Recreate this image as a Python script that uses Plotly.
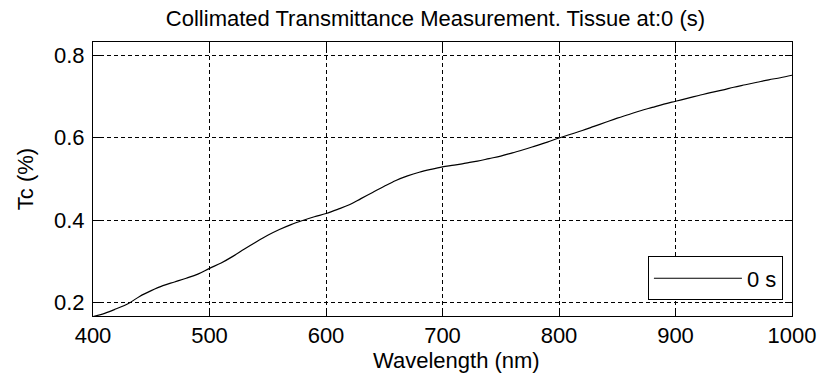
import plotly.graph_objects as go

# Collimated transmittance spectrum of the tissue sample at t = 0 s
wavelength_nm = [400, 410, 420, 430, 440, 450, 460, 470, 480, 490,
                 500, 510, 520, 530, 540, 550, 560, 570, 580, 590,
                 600, 610, 620, 630, 640, 650, 660, 670, 680, 690,
                 700, 710, 720, 730, 740, 750, 760, 770, 780, 790,
                 800, 810, 820, 830, 840, 850, 860, 870, 880, 890,
                 900, 910, 920, 930, 940, 950, 960, 970, 980, 990, 1000]
tc_values = [0.166, 0.174, 0.185, 0.197, 0.215, 0.229, 0.241, 0.250, 0.259, 0.269,
             0.283, 0.296, 0.312, 0.330, 0.347, 0.363, 0.377, 0.389, 0.399, 0.408,
             0.416, 0.426, 0.437, 0.452, 0.467, 0.482, 0.496, 0.507, 0.516, 0.523,
             0.529, 0.533, 0.538, 0.543, 0.549, 0.555, 0.563, 0.571, 0.580, 0.589,
             0.599, 0.608, 0.617, 0.627, 0.637, 0.647, 0.656, 0.665, 0.673, 0.681,
             0.688, 0.695, 0.702, 0.709, 0.715, 0.722, 0.728, 0.734, 0.740, 0.745, 0.751]

series_name = "0 s"
x_ticks = [400, 500, 600, 700, 800, 900, 1000]
y_ticks = [0.2, 0.4, 0.6, 0.8]

FONT = "Liberation Sans, Arial, sans-serif"
FS = 22

fig = go.Figure()
fig.add_trace(go.Scatter(
    x=wavelength_nm, y=tc_values, mode="lines", name=series_name,
    line=dict(color="black", width=1.2, shape="spline"),
))

axis_common = dict(
    showline=True, linecolor="black", linewidth=1, mirror="ticks",
    ticks="inside", ticklen=7, tickwidth=1, tickcolor="black",
    showgrid=True, gridcolor="black", gridwidth=1, griddash="4px,3px",
    zeroline=False, automargin=False,
    tickfont=dict(family=FONT, size=FS, color="black"),
)

fig.update_layout(
    width=817, height=379,
    margin=dict(l=93, r=25, t=42, b=63),
    paper_bgcolor="white", plot_bgcolor="white",
    font=dict(family=FONT, color="black"),
    title=dict(text="Collimated Transmittance Measurement. Tissue at:0 (s)",
               x=0.533, xanchor="center", y=0.951, yanchor="middle",
               font=dict(family=FONT, size=FS, color="black")),
    xaxis=dict(range=[400, 1000], tickvals=x_ticks, **axis_common),
    yaxis=dict(range=[0.1675, 0.8316], tickvals=y_ticks, tickformat=".1f",
               ticklabelstandoff=3,
               title=dict(text="Tc (%)", font=dict(family=FONT, size=FS), standoff=14),
               **axis_common),
    annotations=[dict(text="Wavelength (nm)", xref="paper", yref="paper",
                      x=0.52, y=-0.1617, xanchor="center", yanchor="middle",
                      showarrow=False, font=dict(family=FONT, size=FS, color="black"))],
    showlegend=True,
    legend=dict(x=0.987, xanchor="right", y=0.137, yanchor="middle",
                bgcolor="white", bordercolor="black", borderwidth=1,
                font=dict(family=FONT, size=FS, color="black"),
                itemwidth=88),
)

fig.write_html("out.html")
